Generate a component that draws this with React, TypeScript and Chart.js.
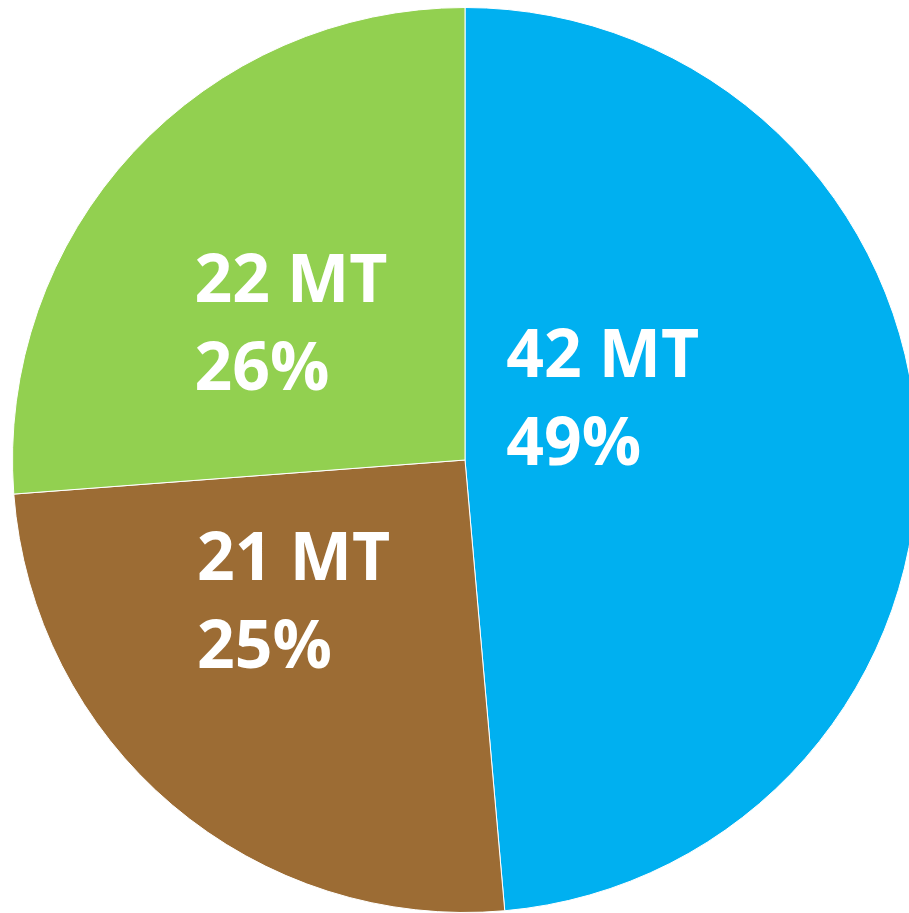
import React, { useEffect, useRef } from "react";
import { Chart, registerables } from "chart.js";

Chart.register(...registerables);

const categories = ["Blue", "Brown", "Green"];
const tonnes = [42, 21, 22];
const percentLabels = ["49%", "25%", "26%"];
const sliceShares = [48.6, 25.2, 26.2];
const colors = ["#00B0F0", "#9C6C34", "#92D050"];

// label anchor (left, first baseline) as fractions of radius from centre
const labelAnchorX = [0.091, -0.592, -0.598];
const labelAnchorY = [-0.183, 0.265, -0.349];

const labelPlugin = {
  id: "sliceLabels",
  afterDatasetsDraw(chart: any) {
    const ctx = chart.ctx;
    const meta = chart.getDatasetMeta(0);
    ctx.save();
    ctx.fillStyle = "#ffffff";
    ctx.font = "700 66px 'Open Sans'";
    ctx.textAlign = "left";
    ctx.textBaseline = "alphabetic";
    meta.data.forEach((arc: any, i: number) => {
      const { x, y, outerRadius } = arc.getProps(["x", "y", "outerRadius"], true);
      const lx = x + labelAnchorX[i] * outerRadius;
      const ly = y + labelAnchorY[i] * outerRadius;
      ctx.fillText(`${tonnes[i]} MT`, lx, ly);
      ctx.fillText(percentLabels[i], lx, ly + 0.195 * outerRadius);
    });
    ctx.restore();
  },
};

export default function App() {
  const ref = useRef<HTMLCanvasElement | null>(null);
  useEffect(() => {
    document.body.style.margin = "0";
    document.body.style.overflow = "hidden";
    const chart = new Chart(ref.current!, {
      type: "pie",
      data: {
        labels: categories,
        datasets: [
          {
            data: sliceShares,
            backgroundColor: colors,
            borderColor: "#ffffff",
            borderWidth: 1,
          },
        ],
      },
      options: {
        animation: false,
        responsive: false,
        maintainAspectRatio: false,
        layout: { padding: 7 },
        plugins: { legend: { display: false }, tooltip: { enabled: false } },
      },
      plugins: [labelPlugin],
    });
    return () => chart.destroy();
  }, []);
  return (
    <div style={{ width: 909, height: 913, overflow: "hidden", position: "relative" }}>
      <canvas ref={ref} width={930} height={920} style={{ position: "absolute", left: 0, top: 0, width: 930, height: 920 }} />
    </div>
  );
}
